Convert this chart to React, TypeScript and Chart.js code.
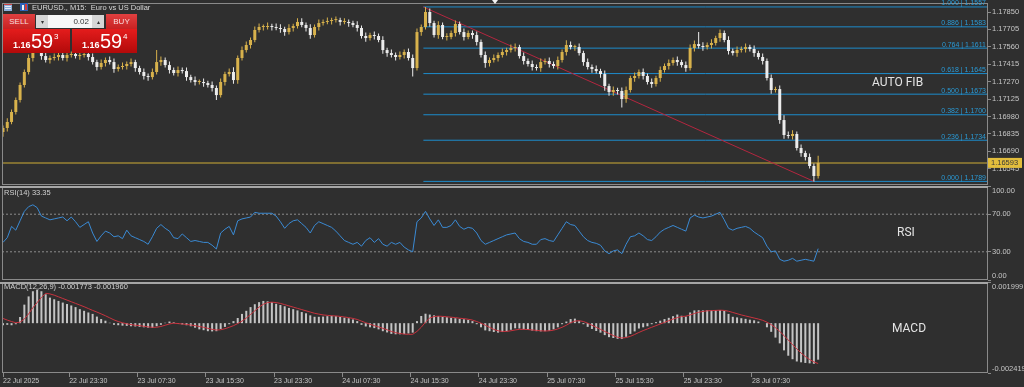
import React, { useEffect, useRef } from 'react';
import { Chart, registerables } from 'chart.js';
Chart.register(...registerables);

// ---------- data (30-minute samples, x = 15-min bar index 2k) ----------
const firstOpen = 1.1685;
const closes = [
  1.16884,1.16934,1.17017,1.17117,1.17242,1.17350,1.17467,1.17533,1.17550,1.17483,
  1.17450,1.17467,1.17475,1.17492,1.17467,1.17492,1.17500,1.17483,1.17492,1.17500,
  1.17475,1.17433,1.17392,1.17425,1.17450,1.17433,1.17375,1.17392,1.17400,1.17417,
  1.17433,1.17383,1.17350,1.17317,1.17308,1.17350,1.17433,1.17450,1.17408,1.17367,
  1.17342,1.17367,1.17358,1.17308,1.17283,1.17267,1.17267,1.17258,1.17242,1.17217,
  1.17158,1.17267,1.17333,1.17350,1.17283,1.17467,1.17533,1.17575,1.17617,1.17700,
  1.17725,1.17725,1.17733,1.17725,1.17717,1.17708,1.17683,1.17717,1.17733,1.17767,
  1.17742,1.17717,1.17658,1.17725,1.17758,1.17767,1.17775,1.17783,1.17783,1.17767,
  1.17767,1.17758,1.17742,1.17717,1.17650,1.17633,1.17658,1.17650,1.17617,1.17533,
  1.17508,1.17492,1.17475,1.17492,1.17517,1.17467,1.17383,1.17683,1.17725,1.17850,
  1.17758,1.17658,1.17742,1.17642,1.17642,1.17675,1.17750,1.17683,1.17642,1.17675,
  1.17658,1.17600,1.17492,1.17425,1.17450,1.17467,1.17492,1.17517,1.17533,1.17550,
  1.17558,1.17483,1.17442,1.17417,1.17392,1.17383,1.17433,1.17442,1.17417,1.17400,
  1.17450,1.17517,1.17575,1.17558,1.17558,1.17508,1.17433,1.17392,1.17375,1.17358,
  1.17333,1.17233,1.17183,1.17200,1.17192,1.17125,1.17200,1.17300,1.17317,1.17350,
  1.17317,1.17267,1.17250,1.17300,1.17367,1.17400,1.17425,1.17450,1.17433,1.17408,
  1.17383,1.17550,1.17583,1.17567,1.17558,1.17575,1.17592,1.17633,1.17675,1.17617,
  1.17525,1.17508,1.17533,1.17542,1.17558,1.17542,1.17508,1.17475,1.17442,1.17300,
  1.17200,1.17208,1.16950,1.16825,1.16817,1.16834,1.16717,1.16675,1.16642,1.16567,
  1.16484,1.16593,
];
// wick lengths beyond the body, in pips
const wickUp = [
  2,3,2,2,2,2,3,3,3,2,
  3,2,3,2,3,2,2,3,2,3,
  2,3,2,3,2,3,3,2,3,2,
  3,2,2,3,2,3,10,3,2,3,
  2,3,2,3,2,3,2,3,2,3,
  2,3,2,3,4,2,3,3,2,3,
  3,2,3,2,3,3,2,3,2,3,
  3,2,3,2,3,2,3,2,3,2,
  3,2,2,3,2,3,2,3,2,3,
  2,3,2,3,2,3,3,3,2,4.2,
  3,2,3,2,3,2,3,2,3,2,
  2,3,2,3,2,3,2,3,2,3,
  3,2,3,2,3,2,3,2,3,2,
  3,2,4,3,2,3,2,3,2,3,
  2,3,2,3,2,3,3,2,3,2,
  3,2,3,2,3,2,3,2,3,2,
  3,3,3,10,3,2,3,2,3,2,
  3,2,3,2,3,2,3,2,3,2,
  3,2,3,4,3,3,2,3,2,3,
  2,6,
];
const wickDn = [
  4,3,2,2,2,2,2,3,2,3,
  2,3,2,3,2,3,2,2,3,2,
  3,2,3,2,3,2,3,2,2,3,
  2,3,2,3,3,2,2,3,2,3,
  2,3,2,3,2,3,2,3,2,3,
  4,2,3,2,3,3,2,2,3,2,
  2,3,2,3,2,3,3,2,3,2,
  2,3,3,2,3,2,2,3,2,3,
  2,3,2,3,2,3,2,3,2,3,
  3,2,3,2,3,2,7,2,3,2,
  3,2,3,2,3,2,3,2,3,2,
  3,3,2,4,3,2,3,2,3,2,
  3,2,3,2,3,2,3,2,3,2,
  3,2,3,2,3,2,3,2,3,2,
  3,4,3,3,3,7,3,2,3,2,
  3,2,3,2,3,2,3,2,3,2,
  3,2,3,2,3,2,3,2,3,2,
  3,2,3,2,3,2,3,2,3,2,
  3,2,3,3,2,3,2,3,3,2,
  4.5,2,
];
const rsiValues = [
  40,45,57,53,63,73,78,80,77,68,
  66,64,65,66,67,63,67,62,56,59,
  62,50,41,47,52,50,46,47,44,53,
  47,45,43,41,38,46,55,59,55,52,
  45,44,49,45,41,42,41,40,40,37,
  33,50,54,57,48,63,65,66,67,72,
  71,71,71,71,68,62,55,60,63,64,
  60,56,50,58,62,60,58,56,52,47,
  42,40,38,40,36,42,45,40,44,38,
  36,40,38,40,35,32,30,62,66,73,
  65,58,64,56,56,58,64,57,54,56,
  55,50,42,38,40,42,44,46,48,49,
  50,44,41,40,38,38,43,44,42,41,
  48,55,62,59,58,52,46,42,40,39,
  37,31,28,31,32,28,38,46,47,50,
  47,43,42,46,51,54,56,58,56,54,
  52,66,69,67,66,67,68,70,72,64,
  55,53,55,56,57,55,51,48,45,36,
  30,31,22,20,21,23,20,21,22,21,
  20,33.35,
];
const macdHist = [
  -0.00010,-0.00008,-0.00010,-0.00005,0.00030,0.00090,0.00130,0.00155,0.00163,0.00155,
  0.00140,0.00124,0.00116,0.00108,0.00100,0.00093,0.00086,0.00078,0.00068,0.00060,
  0.00052,0.00045,0.00032,0.00020,0.00012,0.00002,-0.00008,-0.00010,-0.00012,-0.00013,
  -0.00015,-0.00016,-0.00018,-0.00020,-0.00022,-0.00023,-0.00015,-0.00008,0.00002,0.00008,
  0.00004,-0.00003,-0.00006,-0.00010,-0.00015,-0.00022,-0.00030,-0.00034,-0.00039,-0.00040,
  -0.00039,-0.00028,-0.00018,-0.00005,0.00010,0.00025,0.00045,0.00060,0.00078,0.00092,
  0.00102,0.00108,0.00106,0.00102,0.00094,0.00088,0.00082,0.00074,0.00068,0.00062,
  0.00054,0.00048,0.00038,0.00031,0.00031,0.00032,0.00034,0.00036,0.00034,0.00030,
  0.00027,0.00024,0.00018,0.00010,-0.00008,-0.00016,-0.00020,-0.00024,-0.00030,-0.00039,
  -0.00045,-0.00052,-0.00054,-0.00054,-0.00053,-0.00050,-0.00046,0.00010,0.00035,0.00046,
  0.00042,0.00038,0.00034,0.00031,0.00029,0.00026,0.00024,0.00021,0.00019,0.00016,
  0.00010,-0.00005,-0.00020,-0.00035,-0.00039,-0.00043,-0.00046,-0.00043,-0.00039,-0.00032,
  -0.00025,-0.00026,-0.00030,-0.00033,-0.00036,-0.00039,-0.00040,-0.00039,-0.00037,-0.00030,
  -0.00020,-0.00005,0.00008,0.00020,0.00022,0.00010,-0.00005,-0.00018,-0.00028,-0.00038,
  -0.00046,-0.00058,-0.00068,-0.00072,-0.00076,-0.00077,-0.00066,-0.00052,-0.00040,-0.00026,
  -0.00020,-0.00015,-0.00005,0.00005,0.00012,0.00020,0.00026,0.00034,0.00042,0.00036,
  0.00032,0.00052,0.00062,0.00063,0.00062,0.00063,0.00062,0.00063,0.00064,0.00060,
  0.00045,0.00031,0.00028,0.00024,0.00021,0.00017,0.00014,0.00008,0.00000,-0.00020,
  -0.00042,-0.00070,-0.00098,-0.00132,-0.00158,-0.00175,-0.00186,-0.00190,-0.00193,-0.00195,
  -0.00197,-0.001773,
];
const macdSignal = [
  0.00023,0.00015,0.00008,0.00002,0.00005,0.00020,0.00045,0.00075,0.00100,0.00125,
  0.00145,0.00142,0.00136,0.00128,0.00120,0.00112,0.00104,0.00096,0.00088,0.00080,
  0.00071,0.00062,0.00054,0.00045,0.00036,0.00026,0.00016,0.00008,0.00002,-0.00003,
  -0.00007,-0.00010,-0.00012,-0.00015,-0.00018,-0.00020,-0.00020,-0.00016,-0.00010,-0.00004,
  0.00000,-0.00002,-0.00004,-0.00006,-0.00009,-0.00012,-0.00016,-0.00020,-0.00025,-0.00030,
  -0.00033,-0.00032,-0.00027,-0.00020,-0.00012,-0.00002,0.00010,0.00025,0.00042,0.00060,
  0.00078,0.00092,0.00100,0.00102,0.00100,0.00096,0.00090,0.00084,0.00078,0.00072,
  0.00066,0.00060,0.00054,0.00048,0.00044,0.00040,0.00038,0.00036,0.00035,0.00033,
  0.00030,0.00027,0.00023,0.00018,0.00010,0.00002,-0.00005,-0.00012,-0.00018,-0.00025,
  -0.00032,-0.00040,-0.00046,-0.00050,-0.00053,-0.00054,-0.00054,-0.00040,-0.00020,0.00005,
  0.00025,0.00032,0.00034,0.00033,0.00031,0.00029,0.00027,0.00024,0.00022,0.00019,
  0.00015,0.00008,0.00000,-0.00010,-0.00020,-0.00030,-0.00037,-0.00040,-0.00040,-0.00037,
  -0.00033,-0.00030,-0.00030,-0.00031,-0.00033,-0.00035,-0.00037,-0.00038,-0.00037,-0.00034,
  -0.00028,-0.00020,-0.00010,0.00002,0.00010,0.00012,0.00008,0.00000,-0.00010,-0.00020,
  -0.00030,-0.00040,-0.00050,-0.00060,-0.00068,-0.00072,-0.00070,-0.00064,-0.00055,-0.00045,
  -0.00036,-0.00028,-0.00020,-0.00012,-0.00004,0.00004,0.00012,0.00020,0.00027,0.00032,
  0.00034,0.00040,0.00047,0.00053,0.00057,0.00060,0.00061,0.00062,0.00063,0.00062,
  0.00058,0.00052,0.00046,0.00040,0.00035,0.00030,0.00025,0.00020,0.00014,0.00005,
  -0.00007,-0.00022,-0.00040,-0.00060,-0.00082,-0.00104,-0.00125,-0.00145,-0.00162,-0.00176,
  -0.00188,-0.00196,
];
const priceTicks = [1.16545, 1.1669, 1.16835, 1.1698, 1.17125, 1.1727, 1.17415, 1.1756, 1.17705, 1.1785];
const priceRange = [1.164089, 1.17925];
const rsiTicks = [0, 30, 70, 100];
const rsiLevels = [70, 30];
const macdTicks = [-0.002419, 0.001999];
const timeTickIdx = [0, 31, 63, 95, 127, 159, 191, 223, 255, 287, 319, 351];
const timeLabels = ['22 Jul 2025', '22 Jul 23:30', '23 Jul 07:30', '23 Jul 15:30', '23 Jul 23:30', '24 Jul 07:30', '24 Jul 15:30', '24 Jul 23:30', '25 Jul 07:30', '25 Jul 15:30', '25 Jul 23:30', '28 Jul 07:30'];
const fibLevels = [1, 0.886, 0.764, 0.618, 0.5, 0.382, 0.236, 0];
const fibLabels = ['1.000 | 1.1557', '0.886 | 1.1583', '0.764 | 1.1611', '0.618 | 1.1645', '0.500 | 1.1673', '0.382 | 1.1700', '0.236 | 1.1734', '0.000 | 1.1789'];
const fibHigh = 1.17892;
const fibLow = 1.16439;
const fibStartIdx = 197;
const fibEndIdx = 380;
const currentPrice = 1.16593;
const rsiLast = 33.35;
const macdLast = [-0.001773, -0.00196];

// ---------- style ----------
const PIP = 0.0001;
const BG = '#2f2f2f';
const FRAME = '#8a8a8a';
const SEP = '#a6a6a6';
const TEXT = '#c6c6c6';
const FONT = '"Liberation Sans", Arial, sans-serif';
const BULL = '#d8b24c';
const BEAR = '#ececec';
const FIB_COLOR = '#1d8ccc';
const X_MIN = -0.47;
const X_MAX = 461.6;

const xHidden: any = { type: 'linear', min: X_MIN, max: X_MAX, display: false, offset: false, grid: { offset: false } };

function yBase(extra: any) {
  return {
    type: 'linear',
    position: 'right',
    beginAtZero: false,
    afterFit: (s: any) => { s.width = 36; s.paddingTop = 0; s.paddingBottom = 0; },
    grid: { drawOnChartArea: false, drawTicks: true, tickLength: 3, color: FRAME, offset: false },
    border: { display: false },
    ...extra,
  };
}

function panelPlugin(sepTop: boolean, draw: (c: any) => void) {
  return {
    id: 'panel',
    beforeDraw(chart: any) {
      const c = chart.ctx;
      c.save();
      c.fillStyle = BG;
      c.fillRect(0, 0, chart.width, chart.height);
      c.restore();
    },
    afterDraw(chart: any) {
      const { ctx, chartArea: a } = chart;
      ctx.save();
      ctx.strokeStyle = FRAME;
      ctx.lineWidth = 1;
      ctx.strokeRect(a.left + 0.5, a.top + 0.5, a.right - a.left - 1, a.bottom - a.top - 1);
      if (sepTop) {
        ctx.fillStyle = SEP;
        ctx.fillRect(0, a.top, a.right, 2);
      }
      ctx.restore();
      draw(chart);
    },
  };
}

const baseOpts = (extra: any) => ({
  responsive: false,
  maintainAspectRatio: false,
  animation: false,
  devicePixelRatio: 1,
  events: [],
  plugins: { legend: { display: false }, tooltip: { enabled: false } },
  ...extra,
});

function buildMain(canvas: HTMLCanvasElement) {
  const opens = closes.map((c, k) => (k === 0 ? firstOpen : closes[k - 1]));
  const colorFor = (ctx: any) => (closes[ctx.dataIndex] >= opens[ctx.dataIndex] ? BULL : BEAR);
  const fibPrices = fibLevels.map((l) => fibLow + l * (fibHigh - fibLow));
  return new Chart(canvas, {
    type: 'bar',
    data: {
      datasets: [
        { type: 'bar', data: closes.map((c, k) => ({ x: 2 * k, y: [opens[k], c] })), backgroundColor: colorFor, grouped: false, maxBarThickness: 3, minBarLength: 1 },
        { type: 'bar', data: closes.map((c, k) => ({ x: 2 * k, y: [Math.min(opens[k], c) - wickDn[k] * PIP, Math.max(opens[k], c) + wickUp[k] * PIP] })), backgroundColor: colorFor, grouped: false, maxBarThickness: 1 },
        { type: 'line', data: [{ x: fibStartIdx, y: fibHigh }, { x: fibEndIdx, y: fibLow }], borderColor: '#b3263f', borderWidth: 1, pointRadius: 0 },
        { type: 'line', data: [{ x: X_MIN, y: currentPrice }, { x: X_MAX, y: currentPrice }], borderColor: '#9b8535', borderWidth: 1.5, pointRadius: 0 },
        ...fibPrices.map((p) => ({ type: 'line', data: [{ x: fibStartIdx, y: p }, { x: X_MAX, y: p }], borderColor: FIB_COLOR, borderWidth: 1, pointRadius: 0 })),
      ] as any,
    },
    options: baseOpts({
      layout: { padding: { left: 2, top: 3, right: 0, bottom: 2 } },
      scales: {
        x: xHidden,
        y: yBase({
          min: priceRange[0],
          max: priceRange[1],
          afterBuildTicks: (s: any) => { s.ticks = priceTicks.map((v) => ({ value: v })); },
          ticks: { color: TEXT, font: { size: 7.5, family: FONT }, padding: 1, autoSkip: false, callback: (v: any) => Number(v).toFixed(5) },
        }),
      },
    }) as any,
    plugins: [
      panelPlugin(false, (chart: any) => {
        const ctx = chart.ctx;
        const ys = chart.scales.y;
        ctx.save();
        ctx.font = `7px ${FONT}`;
        ctx.fillStyle = '#2a9ad6';
        ctx.textAlign = 'right';
        ctx.textBaseline = 'alphabetic';
        fibLevels.forEach((_, i) => ctx.fillText(fibLabels[i], 986, ys.getPixelForValue(fibPrices[i]) - 1.5));
        ctx.textAlign = 'left';
        ctx.textBaseline = 'middle';
        ctx.font = '12px Roboto';
        ctx.fillStyle = '#e4e4e4';
        ctx.fillText('AUTO FIB', 872, 83);
        ctx.font = `7.5px ${FONT}`;
        ctx.fillStyle = '#d8d8d8';
        ctx.fillText('EURUSD., M15:  Euro vs US Dollar', 32, 7.5);
        // icons
        ctx.fillStyle = '#8fb0dc';
        ctx.fillRect(4, 4, 8, 7);
        ctx.fillStyle = '#e6eef8';
        ctx.fillRect(5, 6, 6, 1);
        ctx.fillRect(5, 8, 6, 1);
        ctx.fillStyle = '#d04040';
        ctx.fillRect(4, 4, 8, 1);
        ctx.fillStyle = '#2d62b8';
        ctx.fillRect(20, 3, 8, 8);
        ctx.fillStyle = '#f0f0f0';
        ctx.fillRect(22, 5, 2, 5);
        ctx.fillStyle = '#d23a3a';
        ctx.fillRect(25, 4, 2, 6);
        // small marker at the top of the chart
        ctx.fillStyle = '#f2f2f2';
        ctx.beginPath();
        ctx.moveTo(492, 0);
        ctx.lineTo(498, 0);
        ctx.lineTo(495, 4);
        ctx.closePath();
        ctx.fill();
        // current price tag
        const py = ys.getPixelForValue(currentPrice);
        ctx.fillStyle = '#e2bd3c';
        ctx.fillRect(988, py - 5, 34, 10);
        ctx.fillStyle = '#3a3a3a';
        ctx.font = `7.5px ${FONT}`;
        ctx.fillText(currentPrice.toFixed(5), 991, py + 0.5);
        ctx.restore();
      }),
    ],
  });
}

function buildRsi(canvas: HTMLCanvasElement) {
  return new Chart(canvas, {
    type: 'line',
    data: {
      datasets: [
        { data: rsiValues.map((v, k) => ({ x: 2 * k, y: v })), borderColor: '#3a8ad4', borderWidth: 1, pointRadius: 0, tension: 0 },
        ...rsiLevels.map((lv) => ({ data: [{ x: X_MIN, y: lv }, { x: X_MAX, y: lv }], borderColor: '#8c8c8c', borderWidth: 1, borderDash: [2, 2], pointRadius: 0 })),
      ] as any,
    },
    options: baseOpts({
      layout: { padding: { left: 2, top: 0, right: 0, bottom: 1 } },
      scales: {
        x: xHidden,
        y: yBase({
          min: 0,
          max: 100,
          afterBuildTicks: (s: any) => { s.ticks = rsiTicks.map((v) => ({ value: v })); },
          ticks: {
            color: TEXT, font: { size: 7.5, family: FONT }, padding: 1, autoSkip: false,
            callback: (v: any) => {
              const t = Number(v).toFixed(2);
              if (v >= 100) return ['', t];
              if (v <= 0) return [t, ''];
              return t;
            },
          },
        }),
      },
    }) as any,
    plugins: [
      panelPlugin(true, (chart: any) => {
        const ctx = chart.ctx;
        ctx.save();
        ctx.textAlign = 'left';
        ctx.textBaseline = 'middle';
        ctx.font = `7.5px ${FONT}`;
        ctx.fillStyle = '#d0d0d0';
        ctx.fillText(`RSI(14) ${rsiLast.toFixed(2)}`, 4, 7);
        ctx.font = '12px Roboto';
        ctx.fillStyle = '#e4e4e4';
        ctx.fillText('RSI', 897, 47);
        ctx.restore();
      }),
    ],
  });
}

function buildMacd(canvas: HTMLCanvasElement) {
  return new Chart(canvas, {
    type: 'bar',
    data: {
      datasets: [
        { type: 'line', data: macdSignal.map((v, k) => ({ x: 2 * k, y: v })), borderColor: '#c8323e', borderWidth: 1, pointRadius: 0, tension: 0 },
        { type: 'bar', data: macdHist.map((v, k) => ({ x: 2 * k, y: v })), backgroundColor: '#c4c4c4', grouped: false, maxBarThickness: 2 },
      ] as any,
    },
    options: baseOpts({
      layout: { padding: { left: 2, top: 1, right: 0, bottom: 0 } },
      scales: {
        x: {
          type: 'linear', min: X_MIN, max: X_MAX, position: 'bottom', offset: false,
          afterBuildTicks: (s: any) => { s.ticks = timeTickIdx.map((v) => ({ value: v })); },
          afterFit: (s: any) => { s.height = 14; s.paddingLeft = 0; s.paddingRight = 0; },
          grid: { drawOnChartArea: false, drawTicks: true, tickLength: 4, color: FRAME, offset: false },
          border: { display: false },
          ticks: {
            color: TEXT, font: { size: 7, family: FONT }, padding: 0, align: 'start', maxRotation: 0, minRotation: 0, autoSkip: false,
            callback: (_v: any, i: number) => timeLabels[i],
          },
        },
        y: yBase({
          min: macdTicks[0],
          max: macdTicks[1],
          afterBuildTicks: (s: any) => { s.ticks = macdTicks.map((v) => ({ value: v })); },
          ticks: {
            color: TEXT, font: { size: 7.5, family: FONT }, padding: 1, autoSkip: false,
            callback: (v: any) => {
              const t = Number(v).toFixed(6);
              return v > 0 ? ['', t] : [t, ''];
            },
          },
        }),
      },
    }) as any,
    plugins: [
      panelPlugin(true, (chart: any) => {
        const ctx = chart.ctx;
        ctx.save();
        ctx.textAlign = 'left';
        ctx.textBaseline = 'middle';
        ctx.font = `7.5px ${FONT}`;
        ctx.fillStyle = '#d0d0d0';
        ctx.fillText(`MACD(12,26,9) ${macdLast[0].toFixed(6)} ${macdLast[1].toFixed(6)}`, 4, 6);
        ctx.font = '12px Roboto';
        ctx.fillStyle = '#e4e4e4';
        ctx.fillText('MACD', 892, 48);
        ctx.restore();
      }),
    ],
  });
}

const abs = (l: number, t: number, w: number, h: number, extra: any = {}) => ({ position: 'absolute' as const, left: l, top: t, width: w, height: h, ...extra });

function PriceBox({ left, width, big, sup }: { left: number; width: number; big: string; sup: string }) {
  return (
    <div style={abs(left, 29, width, 24, { background: 'linear-gradient(#e41c1c, #b20a0a)', color: '#fff', fontFamily: FONT })}>
      <span style={abs(10, 11.5, 24, 10, { fontSize: 9, fontWeight: 700, lineHeight: '9px' })}>1.16</span>
      <span style={abs(28, 1.5, 26, 20, { fontSize: 20, lineHeight: '20px' })}>{big}</span>
      <span style={abs(51, 4, 8, 8, { fontSize: 8, lineHeight: '8px' })}>{sup}</span>
    </div>
  );
}

export default function App() {
  const refA = useRef<HTMLCanvasElement>(null);
  const refB = useRef<HTMLCanvasElement>(null);
  const refC = useRef<HTMLCanvasElement>(null);
  useEffect(() => {
    document.body.style.margin = '0';
    const charts = [buildMain(refA.current!), buildRsi(refB.current!), buildMacd(refC.current!)];
    return () => charts.forEach((c) => c.destroy());
  }, []);
  return (
    <div style={{ position: 'fixed', left: 0, top: 0, width: 1024, height: 387, background: BG, overflow: 'hidden' }}>
      <canvas ref={refA} width={1024} height={187} style={{ position: 'absolute', left: 0, top: 0 }} />
      <canvas ref={refB} width={1024} height={95} style={{ position: 'absolute', left: 0, top: 186 }} />
      <canvas ref={refC} width={1024} height={106} style={{ position: 'absolute', left: 0, top: 281 }} />
      {/* one-click trading panel */}
      <div style={abs(3, 14, 32, 15, { background: 'linear-gradient(#e04040, #c82222)', color: '#f8dede', font: `8px ${FONT}`, display: 'flex', alignItems: 'center', justifyContent: 'center' })}>SELL</div>
      <div style={abs(36, 15, 68, 13, { background: '#f6f6f6' })} />
      <div style={abs(36, 15, 12, 13, { background: '#d6d6d6', color: '#333', fontSize: 6, display: 'flex', alignItems: 'center', justifyContent: 'center', fontFamily: FONT })}>▾</div>
      <div style={abs(48, 15, 41, 13, { color: '#333', font: `8px ${FONT}`, display: 'flex', alignItems: 'center', justifyContent: 'flex-end' })}>0.02</div>
      <div style={abs(92, 15, 12, 13, { background: '#d6d6d6', color: '#333', fontSize: 6, display: 'flex', alignItems: 'center', justifyContent: 'center', fontFamily: FONT })}>▴</div>
      <div style={abs(106, 14, 31, 15, { background: 'linear-gradient(#e04040, #c82222)', color: '#f8dede', font: `8px ${FONT}`, display: 'flex', alignItems: 'center', justifyContent: 'center' })}>BUY</div>
      <PriceBox left={3} width={67} big="59" sup="3" />
      <PriceBox left={72} width={65} big="59" sup="4" />
    </div>
  );
}
